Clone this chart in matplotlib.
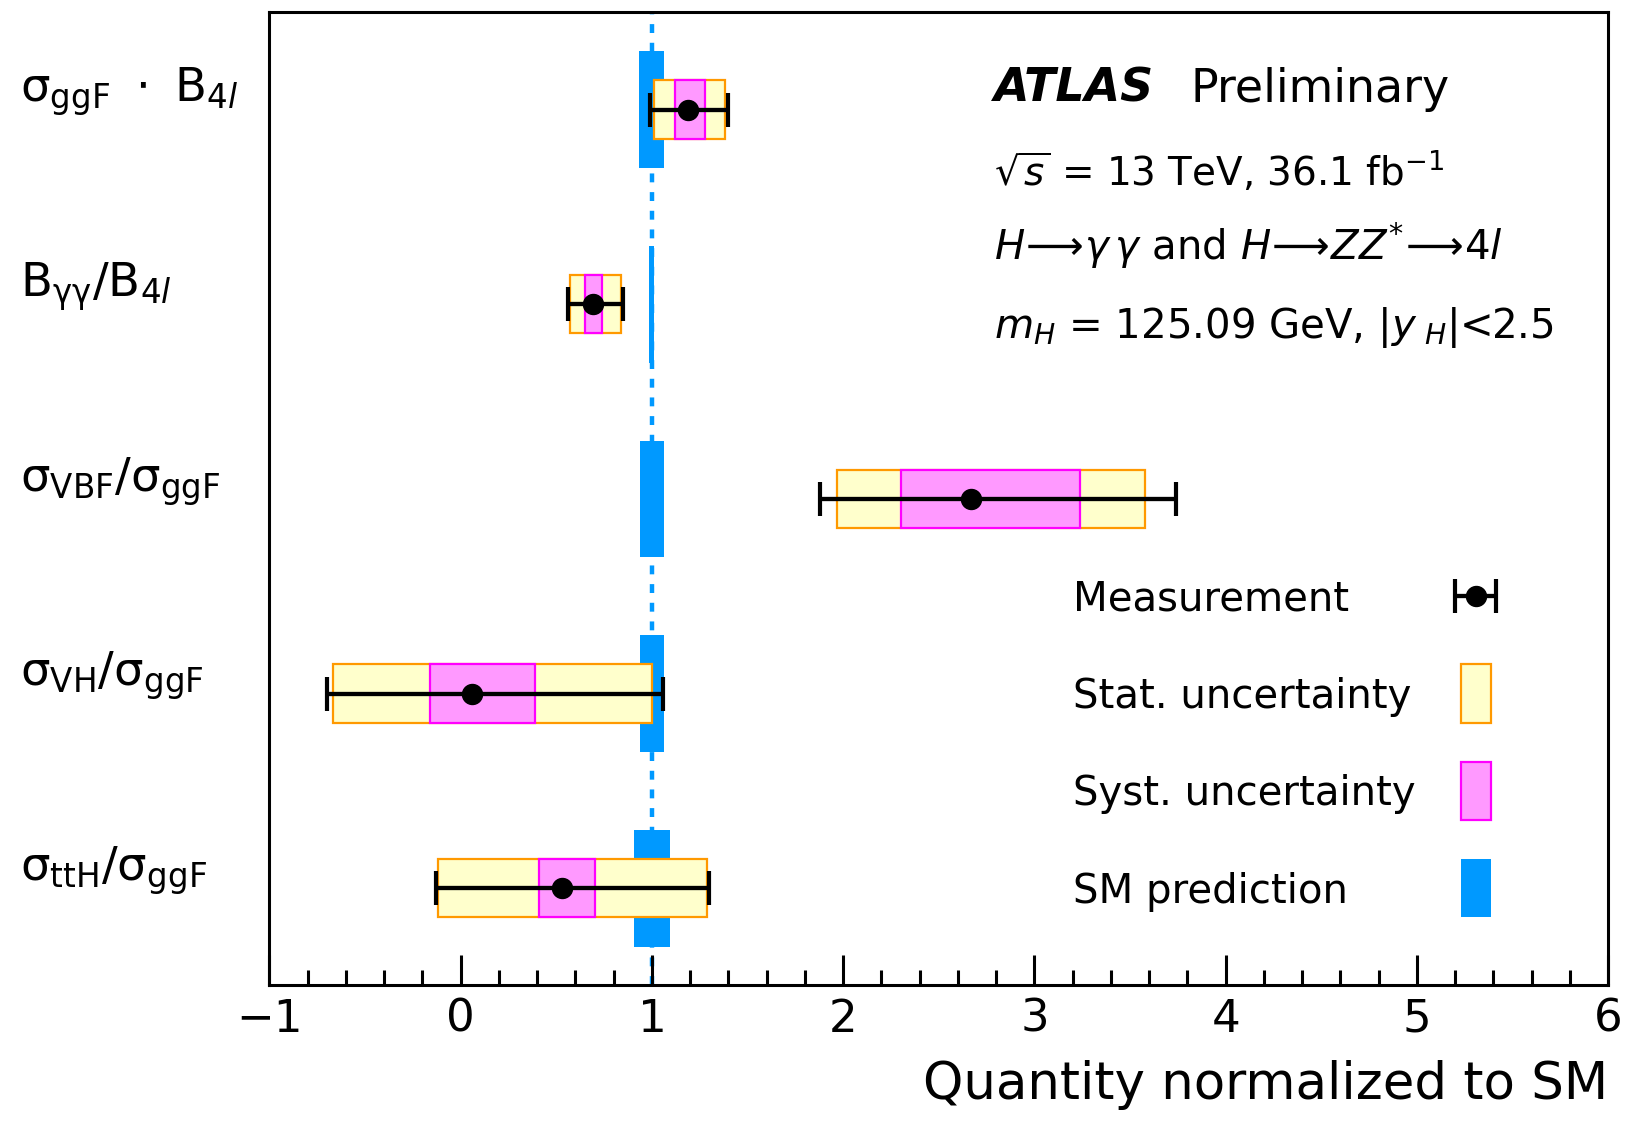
import matplotlib
matplotlib.use('Agg')
import matplotlib.pyplot as plt
from matplotlib.ticker import MultipleLocator
import matplotlib.transforms as mtransforms

plt.rcParams['font.family'] = ['DejaVu Sans']
plt.rcParams['mathtext.fontset'] = 'dejavusans'

# data, top row first
labels = [r'$\mathregular{\sigma_{ggF}\ \cdot\ B_{4\mathit{l}}}$',
          r'$\mathregular{B_{\gamma\gamma}/B_{4\mathit{l}}}$',
          r'$\mathregular{\sigma_{VBF}/\sigma_{ggF}}$',
          r'$\mathregular{\sigma_{VH}/\sigma_{ggF}}$',
          r'$\mathregular{\sigma_{ttH}/\sigma_{ggF}}$']
value   = [1.19, 0.69, 2.67, 0.06, 0.53]
tot_lo  = [0.99, 0.56, 1.88, -0.70, -0.13]
tot_hi  = [1.40, 0.85, 3.74, 1.06, 1.30]
stat_lo = [1.01, 0.57, 1.97, -0.67, -0.12]
stat_hi = [1.38, 0.84, 3.58, 1.00, 1.29]
syst_lo = [1.12, 0.65, 2.30, -0.16, 0.41]
syst_hi = [1.275, 0.74, 3.24, 0.39, 0.70]
sm_lo   = [0.935, 0.987, 0.937, 0.936, 0.905]
sm_hi   = [1.065, 1.013, 1.063, 1.064, 1.095]

ypos = [4.5, 3.5, 2.5, 1.5, 0.5]

c_stat_fill, c_stat_edge = '#ffffcc', '#ff9900'
c_syst_fill, c_syst_edge = '#ff99ff', '#ff00ff'
c_sm = '#0099ff'

fig = plt.figure(figsize=(16.26, 11.21), dpi=100)
ax = fig.add_axes([0.1657, 0.1209, 0.8233, 0.8681])
ax.set_xlim(-1, 6)
ax.set_ylim(0, 5)

ax.axvline(1, color=c_sm, lw=3.2, ls=(0, (2, 2.2)), zorder=0.5)

for i in range(len(value)):
    y = ypos[i]
    ax.barh(y, sm_hi[i] - sm_lo[i], left=sm_lo[i], height=0.6,
            color=c_sm, lw=0, zorder=1)
    ax.barh(y, stat_hi[i] - stat_lo[i], left=stat_lo[i], height=0.3,
            facecolor=c_stat_fill, edgecolor=c_stat_edge, lw=1.6, zorder=2)
    ax.barh(y, syst_hi[i] - syst_lo[i], left=syst_lo[i], height=0.3,
            facecolor=c_syst_fill, edgecolor=c_syst_edge, lw=1.6, zorder=3)
    ax.errorbar(value[i], y, xerr=[[value[i] - tot_lo[i]], [tot_hi[i] - value[i]]],
                fmt='o', color='black', ms=14.4, elinewidth=3.1,
                capsize=12, capthick=3, zorder=4)

# row labels
trans = mtransforms.blended_transform_factory(ax.transAxes, ax.transData)
for lab, y in zip(labels, ypos):
    ax.text(-0.186, y + 0.04, lab, transform=trans, ha='left', va='baseline',
            fontsize=33.5, clip_on=False)

# ATLAS label
ax.text(0.5415, 0.908, 'ATLAS', transform=ax.transAxes, fontsize=33,
        fontweight='bold', fontstyle='italic', va='baseline')
ax.text(0.688, 0.908, 'Preliminary', transform=ax.transAxes, fontsize=33,
        va='baseline')
ax.text(0.5415, 0.823, r'$\sqrt{s}$ = 13 TeV, 36.1 fb$^{\mathregular{-1}}$',
        transform=ax.transAxes, fontsize=28, va='baseline')
ax.text(0.5415, 0.745,
        r'$H\!\longrightarrow\!\gamma\,\gamma$ and $H\!\longrightarrow\!ZZ^{*}\!\longrightarrow\!4l$',
        transform=ax.transAxes, fontsize=29, va='baseline')
ax.text(0.5415, 0.665, r'$m_{H}$ = 125.09 GeV, |$y_{\ H}$|<2.5',
        transform=ax.transAxes, fontsize=29, va='baseline')

# legend drawn by hand
leg_x = 5.307
leg_y = [2.0, 1.5, 1.0, 0.5]
leg_text = ['Measurement', 'Stat. uncertainty', 'Syst. uncertainty', 'SM prediction']
for t, y in zip(leg_text, leg_y):
    ax.text(0.600, y - 0.075, t, transform=trans, fontsize=29, va='baseline')
ax.errorbar(leg_x, leg_y[0], xerr=0.107, fmt='o', color='black', ms=14.4,
            elinewidth=3.1, capsize=12, capthick=3, zorder=4)
ax.barh(leg_y[1], 0.157, left=leg_x - 0.078, height=0.3,
        facecolor=c_stat_fill, edgecolor=c_stat_edge, lw=1.6)
ax.barh(leg_y[2], 0.157, left=leg_x - 0.078, height=0.3,
        facecolor=c_syst_fill, edgecolor=c_syst_edge, lw=1.6)
ax.barh(leg_y[3], 0.157, left=leg_x - 0.078, height=0.3, color=c_sm, lw=0)

# axes style
for s in ax.spines.values():
    s.set_linewidth(2.2)
ax.set_yticks([])
ax.xaxis.set_major_locator(MultipleLocator(1))
ax.xaxis.set_minor_locator(MultipleLocator(0.2))
ax.tick_params(axis='x', which='major', direction='in', length=21.5, width=2.2,
               labelsize=32.5, pad=9)
ax.tick_params(axis='x', which='minor', direction='in', length=10.8, width=2.2)
ax.set_xticks(range(-1, 7))
ax.set_xticklabels(['\u22121', '0', '1', '2', '3', '4', '5', '6'])
ax.set_xlabel('Quantity normalized to SM', fontsize=37, loc='right', labelpad=14)

plt.savefig('out.png', dpi=100)
